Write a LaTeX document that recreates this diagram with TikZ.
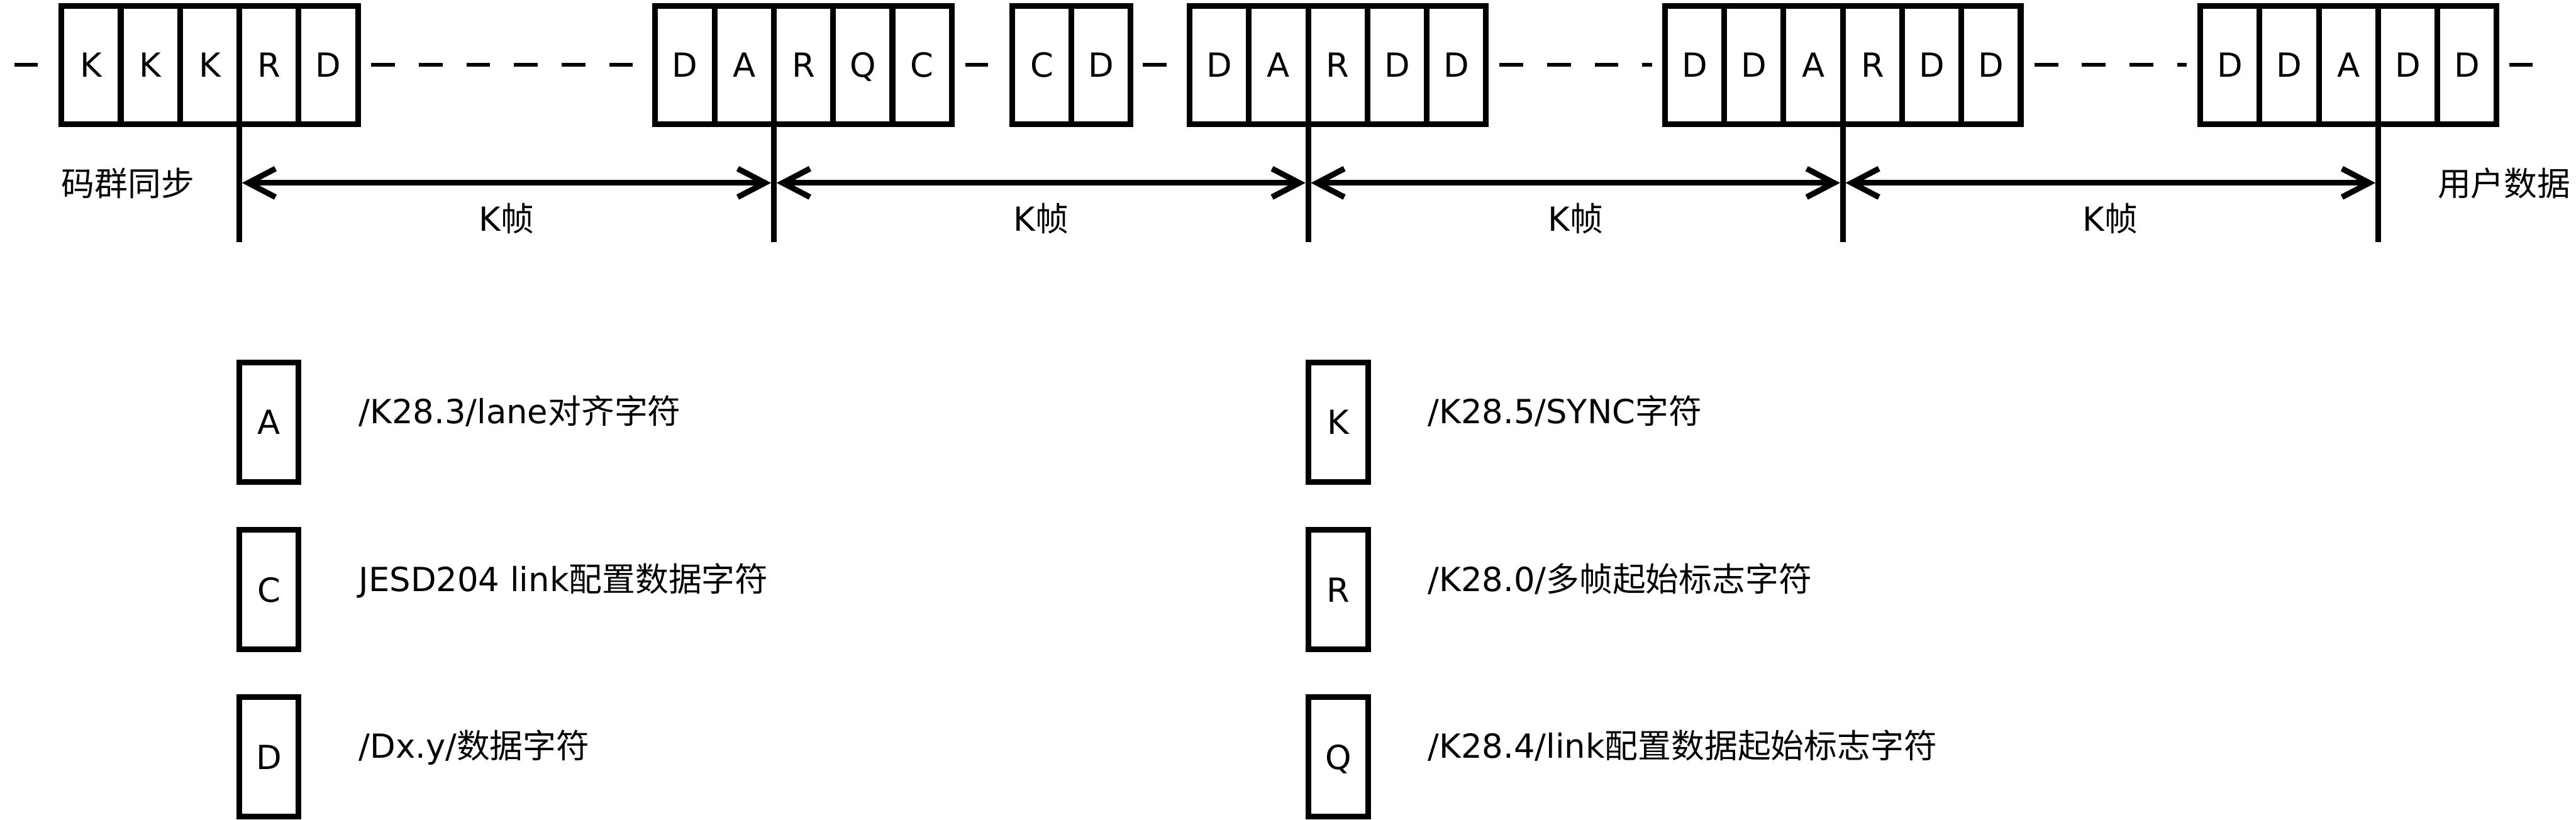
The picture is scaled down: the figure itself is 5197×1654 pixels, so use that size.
\documentclass[tikz,border=0pt]{standalone}
\usepackage{fontspec}
\setmainfont{DejaVu Sans}
\newfontfamily\cjk{Noto Sans CJK SC}
\usetikzlibrary{arrows.meta}
\begin{document}
\begin{tikzpicture}[x=0.2pt,y=-0.2pt,
  every node/.style={font=\fontsize{13.4}{16}\selectfont},
  cell/.style={draw, line width=2.3pt, rectangle, inner sep=0pt, outer sep=0pt,
    minimum width=23.92pt, minimum height=47.6pt, text height=9.77pt, text depth=0pt},
  legbox/.style={cell, minimum height=48.2pt},
  ln/.style={line width=2.3pt},
  thinln/.style={line width=1.5pt},
  dashln/.style={thinln, dash pattern=on 9.6pt off 9.6pt},
  dim/.style={ln, shorten <=1.1pt, shorten >=1.1pt,
    {Straight Barb[length=11pt,width=11.5pt]}-{Straight Barb[length=11pt,width=11.5pt]}},
  txt/.style={anchor=base west, inner sep=0pt},
]
\useasboundingbox (0,0) rectangle (5197,1654);

% groups of cells
\foreach \t [count=\i] in {K,K,K,R,D}
  \node[cell] (g1-\i) at ({124+(\i-0.5)*119.6},131) {\t};
\foreach \t [count=\i] in {D,A,R,Q,C}
  \node[cell] (g2-\i) at ({1322+(\i-0.5)*119.6},131) {\t};
\foreach \t [count=\i] in {C,D}
  \node[cell] (g3-\i) at ({2042+(\i-0.5)*119.6},131) {\t};
\foreach \t [count=\i] in {D,A,R,D,D}
  \node[cell] (g4-\i) at ({2400+(\i-0.5)*119.6},131) {\t};
\foreach \t [count=\i] in {D,D,A,R,D,D}
  \node[cell] (g5-\i) at ({3359+(\i-0.5)*119.6},131) {\t};
\foreach \t [count=\i] in {D,D,A,D,D}
  \node[cell] (g6-\i) at ({4439+(\i-0.5)*119.6},131) {\t};

% dashes between groups
\coordinate (s0) at (29,131);
\coordinate (e0) at (5109,131);
\draw[thinln, shorten >=9.6pt] (s0) -- (g1-1.west);
\draw[dashln, shorten <=5.4pt, shorten >=9.2pt] (g1-5.east) -- (g2-1.west);
\draw[thinln, shorten <=5.4pt, shorten >=9.8pt] (g2-5.east) -- (g3-1.west);
\draw[thinln, shorten <=4.8pt, shorten >=9.2pt] (g3-2.east) -- (g4-1.west);
\draw[dashln, shorten <=5.4pt, shorten >=5.2pt] (g4-5.east) -- (g5-1.west);
\draw[dashln, shorten <=5.5pt, shorten >=5.6pt] (g5-6.east) -- (g6-1.west);
\draw[thinln, shorten <=5pt] (g6-5.east) -- (e0);

% vertical markers
\draw[ln] (g1-4.south west) -- ++(0,239) coordinate (v1);
\draw[ln] (g2-3.south west) -- ++(0,239) coordinate (v2);
\draw[ln] (g4-3.south west) -- ++(0,239) coordinate (v3);
\draw[ln] (g5-4.south west) -- ++(0,239) coordinate (v4);
\draw[ln] (g6-4.south west) -- ++(0,239) coordinate (v5);
\path (g1-4.south west) ++(0,119) coordinate (a1);
\path (g2-3.south west) ++(0,119) coordinate (a2);
\path (g4-3.south west) ++(0,119) coordinate (a3);
\path (g5-4.south west) ++(0,119) coordinate (a4);
\path (g6-4.south west) ++(0,119) coordinate (a5);
\draw[dim] (a1) -- (a2);
\draw[dim] (a2) -- (a3);
\draw[dim] (a3) -- (a4);
\draw[dim] (a4) -- (a5);

\node[anchor=base] (kf1) at (1022,466) {K{\cjk 帧}};
\node[anchor=base] (kf2) at (2100,466) {K{\cjk 帧}};
\node[anchor=base] (kf3) at (3179,466) {K{\cjk 帧}};
\node[anchor=base] (kf4) at (4257,466) {K{\cjk 帧}};
\node (sync) at (258,370) {\cjk 码群同步};
\node (user) at (5052,370) {\cjk 用户数据};

% legend
\node[legbox] (lA) at (542.6,851.5) {A};
\node[legbox] (lC) at (542.6,1190) {C};
\node[legbox] (lD) at (542.6,1527.5) {D};
\node[legbox] (lK) at (2700,851.5) {K};
\node[legbox] (lR) at (2700,1190) {R};
\node[legbox] (lQ) at (2700,1527.5) {Q};
\node[txt] (tA) at (723,855) {/K28.3/lane{\cjk 对齐字符}};
\node[txt] (tC) at (723,1193) {JESD204 link{\cjk 配置数据字符}};
\node[txt] (tD) at (723,1530) {/Dx.y/{\cjk 数据字符}};
\node[txt] (tK) at (2880,855) {/K28.5/SYNC{\cjk 字符}};
\node[txt] (tR) at (2880,1193) {/K28.0/{\cjk 多帧起始标志字符}};
\node[txt] (tQ) at (2880,1530) {/K28.4/link{\cjk 配置数据起始标志字符}};
\end{tikzpicture}
\end{document}
